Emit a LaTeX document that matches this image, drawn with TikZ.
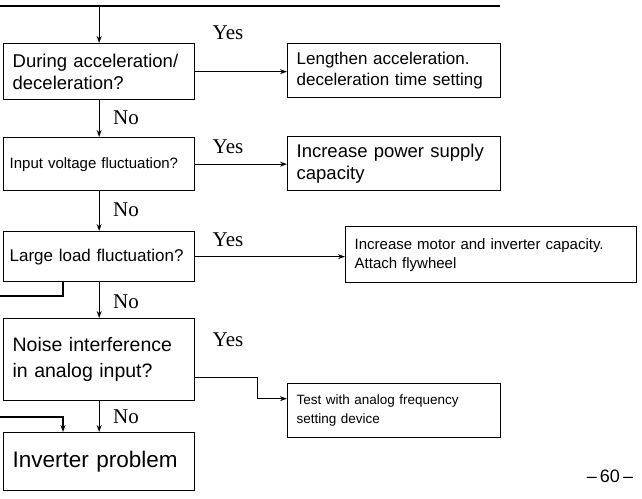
\documentclass[tikz,border=0pt]{standalone}
\usepackage{fontspec}
\setmainfont{Liberation Serif}
\setsansfont{Liberation Sans}
\usetikzlibrary{arrows.meta}
\newcommand\fz[2]{\fontsize{#1}{#2}\selectfont}

\begin{document}
\begin{tikzpicture}[x=1pt,y=-1pt,
  box/.style={draw,line width=1.3pt,anchor=north west,inner xsep=9pt,inner ysep=0pt,align=left},
  link/.style={line width=1.2pt},
  arr/.style={link,-{Stealth[length=7pt,width=5pt]}},
  lab/.style={font=\fz{21}{21},inner sep=0pt}]
  \useasboundingbox (0,0) rectangle (642,498);
  \coordinate (top0) at (0,6);
  \coordinate (top1) at (500,6);
  \coordinate (fb0) at (0,296);
  \coordinate (fb1) at (0,417);

  \node[box,minimum width=191,minimum height=56,text width=173,font=\sffamily\fz{18.5}{22}] (q1) at (3,43) {During acceleration/\\deceleration?};
  \node[box,minimum width=213,minimum height=54,text width=195,font=\sffamily\fz{17}{21}] (a1) at (287,43) {Lengthen acceleration.\\deceleration time setting};
  \node[box,minimum width=191,minimum height=53,inner xsep=6pt,text width=179,font=\sffamily\fz{15}{19}] (q2) at (3,137) {Input voltage fluctuation?};
  \node[box,minimum width=213,minimum height=54,text width=195,font=\sffamily\fz{18.5}{22}] (a2) at (287,136) {Increase power supply\\capacity};
  \node[box,minimum width=191,minimum height=50,inner xsep=6pt,text width=179,font=\sffamily\fz{17}{21}] (q3) at (3,231) {Large load fluctuation?};
  \node[box,minimum width=291,minimum height=56,text width=273,font=\sffamily\fz{15}{19}] (a3) at (345,226) {Increase motor and inverter capacity.\\Attach flywheel};
  \node[box,minimum width=191,minimum height=82,text width=173,font=\sffamily\fz{19.5}{26}] (q4) at (3,318) {Noise interference\\in analog input?};
  \node[box,minimum width=213,minimum height=54,text width=195,font=\sffamily\fz{13.5}{19}] (a4) at (287,383) {Test with analog frequency\\setting device};
  \node[box,minimum width=191,minimum height=58,text width=173,font=\sffamily\fz{22.5}{26}] (fin) at (3,432) {Inverter problem};

  \draw[link] (top0) -- (top1);
  \draw[arr] (q1.north |- top0) -- (q1.north);
  \draw[arr] (q1.east) -- (q1.east -| a1.west);
  \draw[arr] (q2.east) -- (q2.east -| a2.west);
  \draw[arr] (q3.east) -- (q3.east -| a3.west);
  \draw[arr] (q4.east) ++(0,18) -- ++(62,0) |- ([yshift=12pt]a4.west);
  \draw[arr] (q1.south) -- (q2.north);
  \draw[arr] (q2.south) -- (q3.north);
  \draw[arr] (q3.south) -- (q4.north);
  \draw[arr] (q4.south) -- (fin.north);
  \draw[link] (q3.south west) ++(60,0) |- (fb0);
  \draw[arr] (fb1) -| ([xshift=60pt]fin.north west);

  \node[lab] (y1) at (228,33) {Yes};
  \node[lab] (y2) at (228,147) {Yes};
  \node[lab] (y3) at (228,240) {Yes};
  \node[lab] (y4) at (228,340) {Yes};
  \node[lab] (n1) at (126,118) {No};
  \node[lab] (n2) at (126,210) {No};
  \node[lab] (n3) at (126,302) {No};
  \node[lab] (n4) at (126,417) {No};

  \node[font=\sffamily\fz{18}{18}] (pg) at (610,476) {\textendash\,60\,\textendash};
\end{tikzpicture}
\end{document}
